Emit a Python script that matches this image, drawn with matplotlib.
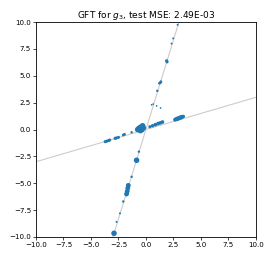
import matplotlib
matplotlib.use("Agg")
import matplotlib.pyplot as plt
import numpy as np

# the two ground-truth directions (slopes)
slope_a = 0.3
slope_b = 1 / 0.3

# learned points (x, y) and their weights (marker size)
px = [2.88, 2.48, 2.33, 1.88, 1.92, 1.36, 1.30, 1.21, 1.03, 0.52,
      0.66, 0.97, 1.33,
      -3.7, -3.55, -3.4, -3.3, -2.8, -2.7, -2.5, -2.06, -1.95, -1.3,
      -0.75, -0.6, -0.45, -0.3, -0.5, -0.2, -0.35,
      0.36, 0.6, 0.85, 1.1, 1.3, 1.5,
      2.65, 2.8, 2.95, 3.1, 3.25, 3.4,
      -0.64, -0.85, -1.3, -1.6, -1.65, -1.7, -1.76, -2.06, -2.36, -2.67, -2.9]
py = [9.75, 8.48, 8.0, 6.4, 6.3, 4.45, 4.35, 4.3, 3.6, 2.3,
      2.37, 2.2, 2.0,
      -1.13, -1.08, -1.03, -0.98, -0.82, -0.79, -0.73, -0.51, -0.45, -0.26,
      0.0, 0.1, 0.2, 0.35, -0.1, 0.15, 0.0,
      0.26, 0.35, 0.45, 0.55, 0.62, 0.7,
      0.92, 0.98, 1.04, 1.1, 1.16, 1.22,
      -2.06, -2.86, -4.4, -5.2, -5.45, -5.75, -6.0, -6.7, -7.8, -8.6, -9.66]
weights = [2, 2, 2, 5, 5, 4, 4, 3, 3, 1.5,
           1.5, 1.5, 1.5,
           5, 5, 5, 5, 5, 5, 5, 4, 4, 3,
           16, 20, 20, 16, 16, 12, 16,
           5, 6, 7, 7, 7, 7,
           8, 10, 10, 10, 10, 6,
           3, 16, 3, 12, 12, 12, 12, 3, 2, 2, 16]

xlim = (-10, 10)
ylim = (-10, 10)
ticks = np.arange(-10, 10.1, 2.5)

fig = plt.figure(figsize=(2.7, 2.57), dpi=100)
ax = fig.add_axes([0.133, 0.078, 0.815, 0.836])

xs = np.linspace(-10, 10, 200)
ax.plot(xs, slope_a * xs, color="#cccccc", lw=0.8, zorder=1)
ax.plot(xs, slope_b * xs, color="#cccccc", lw=0.8, zorder=1)
ax.scatter(px, py, s=weights, color="tab:blue", zorder=2, linewidths=0)

ax.set_xlim(*xlim)
ax.set_ylim(*ylim)
ax.set_xticks(ticks)
ax.set_yticks(ticks)
ax.tick_params(labelsize=5.1, length=2, width=0.5, pad=1.5)
for sp in ax.spines.values():
    sp.set_linewidth(0.6)
ax.set_title("GFT for $g_3$, test MSE: 2.49E-03", fontsize=6.5, pad=3)

fig.savefig("out.png", dpi=100)
